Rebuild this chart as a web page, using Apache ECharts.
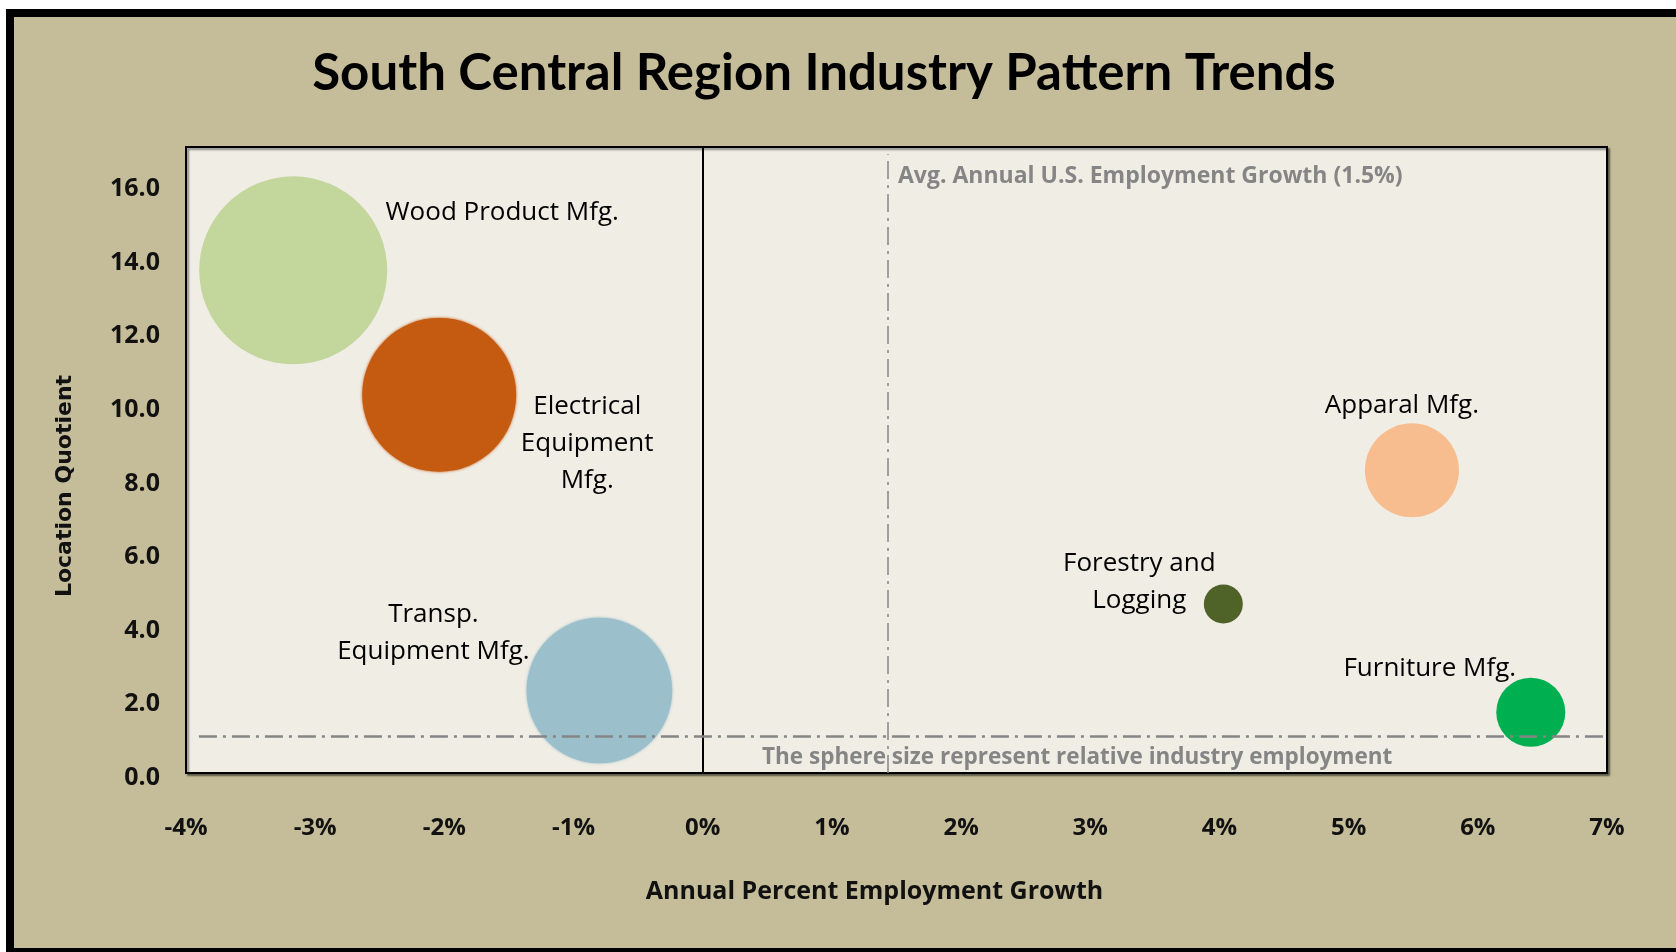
<!DOCTYPE html>
<html>
<head>
<meta charset="utf-8">
<title>South Central Region Industry Pattern Trends</title>
<script src="https://cdn.jsdelivr.net/npm/echarts@6/dist/echarts.min.js"></script>
<style>
  html, body { margin: 0; padding: 0; width: 1676px; height: 952px; overflow: hidden; background: #fff; }
  /* tan panel with the heavy black frame */
  #frame { position: absolute; left: 6px; top: 9px; width: 1700px; height: 931px; border: 8px solid #000; background: #c5bd99; }
  #chart { position: absolute; left: 14px; top: 17px; width: 1620px; height: 931px; }
</style>
</head>
<body>
<div id="frame"></div>
<div id="chart"></div>
<script>
// values
const industries = ['Wood Product Mfg.', 'Electrical\nEquipment\nMfg.', 'Transp.\nEquipment Mfg.', 'Apparal Mfg.', 'Forestry and\nLogging', 'Furniture Mfg.'];
const growth = [-3.17, -2.04, -0.80, 5.49, 4.03, 6.41];          // annual % employment growth
const locationQuotient = [13.65, 10.27, 2.24, 8.22, 4.59, 1.65];
const employment = [100, 67, 60, 25, 4.3, 13.5];                 // relative industry employment (Wood = 100)
const xTicks = [-4, -3, -2, -1, 0, 1, 2, 3, 4, 5, 6, 7];
const yTicks = [0, 2, 4, 6, 8, 10, 12, 14, 16];
const yMax = 17;
const usAvgGrowth = 1.43;   // where the dash-dot line sits in the picture
const lqBaseline = 1.0;

// styles
const colors = ['#c3d69b', '#c55a11', '#9bbfcb', '#f8bd8e', '#4f6228', '#00b050'];
const softEdge = [false, true, true, false, false, false];
const labelOffsets = [[209, -58], [148, 49], [-166, -57], [-10, -65], [-84, -22], [-101, -44]];
const gray = '#858585';

const chart = echarts.init(document.getElementById('chart'));

const points = industries.map(function (name, i) {
  return {
    name: name,
    value: [growth[i], locationQuotient[i], employment[i]],
    itemStyle: {
      color: colors[i],
      opacity: 1,
      shadowBlur: softEdge[i] ? 3 : 0,
      shadowColor: colors[i]
    },
    label: { offset: labelOffsets[i] }
  };
});

const option = {
  animation: false,
  title: {
    text: 'South Central Region Industry Pattern Trends',
    left: 'center',
    top: 26,
    textStyle: { fontFamily: 'Lato', fontWeight: 'bold', fontSize: 51, lineHeight: 51, color: '#000' }
  },
  grid: {
    left: 172, top: 130, width: 1421, height: 626,
    show: true,
    backgroundColor: '#f0ede5',
    borderColor: '#000',
    borderWidth: 2,
    shadowColor: 'rgba(0,0,0,0.45)',
    shadowOffsetX: 2,
    shadowOffsetY: 2,
    shadowBlur: 2
  },
  xAxis: {
    type: 'value',
    min: xTicks[0],
    max: xTicks[xTicks.length - 1],
    interval: 1,
    axisLine: { show: false },
    axisTick: { show: false },
    splitLine: { show: false },
    axisLabel: {
      showMinLabel: true, showMaxLabel: true,
      formatter: function (v) { return v + '%'; },
      fontFamily: 'Open Sans', fontWeight: 'bold', fontSize: 24, lineHeight: 24,
      color: '#111', margin: 43
    },
    name: 'Annual Percent Employment Growth',
    nameLocation: 'middle',
    nameGap: 106,
    nameTextStyle: { fontFamily: 'Open Sans', fontWeight: 'bold', fontSize: 25, color: '#111', padding: [0, 44, 0, 0] }
  },
  yAxis: {
    type: 'value',
    min: yTicks[0],
    max: yMax,
    interval: 2,
    axisLine: { show: false },
    axisTick: { show: false },
    splitLine: { show: false },
    axisLabel: {
      formatter: function (v) { return yTicks.indexOf(v) >= 0 ? v.toFixed(1) : ''; },
      fontFamily: 'Open Sans', fontWeight: 'bold', fontSize: 25,
      color: '#111', margin: 26,
      verticalAlign: 'top', lineHeight: 10
    },
    name: 'Location Quotient',
    nameLocation: 'middle',
    nameGap: 110,
    nameTextStyle: { fontFamily: 'DejaVu Sans', fontWeight: 'bold', fontSize: 22, color: '#111', padding: [0, 52, 0, 0] }
  },
  graphic: [
    {
      type: 'text', left: 884, top: 148,
      style: { text: 'Avg. Annual U.S. Employment Growth (1.5%)', font: 'bold 23px "Open Sans"', fill: gray }
    },
    {
      type: 'text', left: 748, top: 729,
      style: { text: 'The sphere size represent relative industry employment', font: 'bold 22.5px "Open Sans"', fill: gray }
    }
  ],
  series: [
    {
      type: 'scatter',
      data: points,
      symbolSize: function (v) { return 188 * Math.sqrt(v[2] / 100); },
      label: {
        show: true,
        position: 'inside',
        formatter: function (p) { return p.name; },
        color: '#000',
        fontFamily: 'Open Sans',
        fontSize: 26,
        lineHeight: 37,
        align: 'center'
      },
      emphasis: { disabled: true },
      markLine: {
        silent: true,
        symbol: 'none',
        label: { show: false },
        data: [
          [
            { coord: [0, yTicks[0]], lineStyle: { color: '#000', width: 2, type: 'solid' } },
            { coord: [0, yMax] }
          ],
          [
            { coord: [-3.9, lqBaseline], lineStyle: { color: gray, width: 2.5, type: [18, 6, 3, 6] } },
            { coord: [6.98, lqBaseline] }
          ],
          [
            { coord: [usAvgGrowth, yTicks[0]], lineStyle: { color: gray, width: 1.5, type: [18, 6, 3, 6] } },
            { coord: [usAvgGrowth, 16.8] }
          ]
        ]
      }
    }
  ]
};

chart.setOption(option);
</script>
</body>
</html>
